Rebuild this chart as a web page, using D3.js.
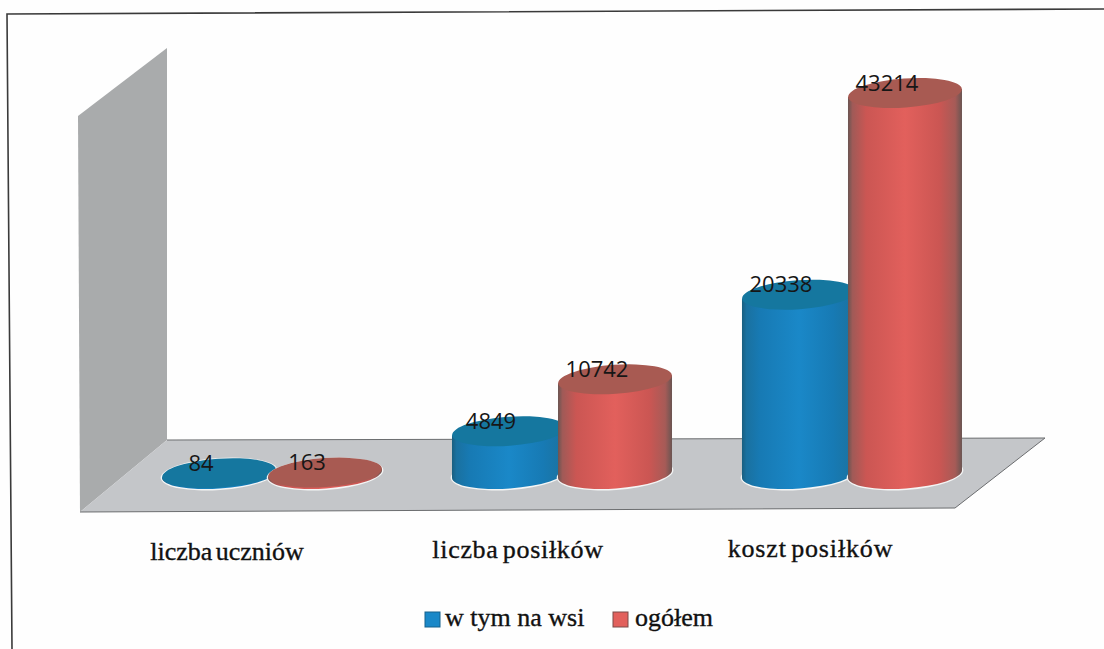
<!DOCTYPE html>
<html><head><meta charset="utf-8">
<script src="https://cdn.jsdelivr.net/npm/d3@7"></script>
<style>html,body{margin:0;background:#fff}svg{display:block}</style>
</head><body><svg id="c" width="1104" height="649"></svg>
<script>
const categories = ["liczba uczniów", "liczba posiłków", "koszt posiłków"];
const seriesNames = ["w tym na wsi", "ogółem"];
const wsi = [84, 4849, 20338];
const ogolem = [163, 10742, 43214];
const seriesColors = ["#1a88c8", "#e2605c"];

const svg = d3.select("#c");
const defs = svg.append("defs");
const W = 1104, H = 649;
svg.append("rect").attr("width", W).attr("height", H).attr("fill", "#fefefe");

// frame
svg.append("path").attr("d", d3.line()([[1104,9],[7,14],[12,649]]))
  .attr("fill", "none").attr("stroke", "#3a3a3a").attr("stroke-width", 1.6);

// wall and floor
svg.append("path").attr("d", d3.line()([[78,116],[167,48],[167,440],[80,512]]) + "Z").attr("fill", "#a9abac");
svg.append("path").attr("d", d3.line()([[167,440],[1045,438],[955,508],[80,512]]) + "Z").attr("fill", "#c4c6c9");
svg.append("path").attr("d", d3.line()([[167,440],[1045,438],[955,508],[80,512]]))
  .attr("fill", "none").attr("stroke", "#6b6d6f").attr("stroke-width", 1);

// scales
const x0 = d3.scaleBand().domain(categories).range([163, 959]).paddingInner(0.255).paddingOuter(0);
const x1 = d3.scaleBand().domain(seriesNames).range([0, x0.bandwidth()]).padding(0);
const y = d3.scaleLinear().domain([0, 43214]).range([474, 93]);

function shade(id, c, edge) {
  const col = d3.color(c);
  const g = defs.append("linearGradient").attr("id", id);
  [[0, edge], [0.04, d3.interpolateRgb(edge, c)(0.45)], [0.16, col.darker(0.3)], [0.5, col], [0.8, col.darker(0.3)], [0.94, d3.interpolateRgb(edge, c)(0.5)], [1, edge]]
    .forEach(([o, k]) => g.append("stop").attr("offset", o).attr("stop-color", k));
}
shade("grad0", seriesColors[0], "#1a5f80");
shade("grad1", seriesColors[1], "#6a5552");

const TILT = -4, RY = 14.5;
const tops = ["#15779f", "#a85a52"];
const rows = [];
categories.forEach((cat, ci) => seriesNames.forEach((s, si) => {
  rows.push({cat, s, si, v: (si === 0 ? wsi : ogolem)[ci]});
}));
const centre = d => x0(d.cat) + x1(d.s) + x1.bandwidth() / 2 + (d.si === 0 ? 2 : 0);

const g = svg.selectAll("g.cyl").data(rows).join("g").attr("class", "cyl");
g.each(function(d) {
  const sel = d3.select(this);
  const rx = 57;
  const cx = centre(d);
  const yb = y(0), yt = y(d.v);
  sel.append("ellipse").attr("cx", cx).attr("cy", yb).attr("rx", rx + 1.5).attr("ry", RY + 1.5)
    .attr("transform", `rotate(${TILT} ${cx} ${yb})`).attr("fill", "#f4f5f5");
  const rad = TILT * Math.PI / 180;
  const dy = rx * Math.sin(rad);
  sel.append("path")
    .attr("d", `M${cx - rx},${yt - dy} L${cx - rx},${yb - dy} A${rx},${RY} ${TILT} 0 0 ${cx + rx},${yb + dy} L${cx + rx},${yt + dy} Z`)
    .attr("fill", `url(#grad${d.si})`);
  sel.append("ellipse").attr("cx", cx).attr("cy", yt).attr("rx", rx).attr("ry", RY)
    .attr("transform", `rotate(${TILT} ${cx} ${yt})`).attr("fill", tops[d.si]);
});

// value labels
svg.selectAll("text.val").data(rows).join("text").attr("class", "val")
  .attr("x", d => centre(d) - 18)
  .attr("y", d => y(d.v) - 2.5)
  .attr("text-anchor", "middle").attr("font-family", "'Open Sans', sans-serif").attr("font-size", 22)
  .attr("fill", "#161616").text(d => d.v);

// category axis
const axis = d3.axisBottom(x0).tickSize(0).tickPadding(0);
const ax = svg.append("g").attr("transform", "translate(0,560)").call(axis);
ax.select(".domain").remove();
ax.selectAll("text").attr("font-family", "'Liberation Serif', serif").attr("font-size", 26)
  .attr("fill", "#111").attr("y", 0).attr("dy", 0).attr("word-spacing", -3)
  .attr("letter-spacing", (d, i) => [0, 0.7, 0.85][i])
  .attr("stroke", "#111").attr("stroke-width", 0.35)
  .attr("transform", (d, i) => `translate(${[-44, -43, -40.5][i]},${[0, -2, -3][i]})`);

// legend
const lx = [425, 613], tx = [445, 635];
seriesNames.forEach((s, i) => {
  svg.append("rect").attr("x", lx[i]).attr("y", 612).attr("width", 15).attr("height", 15)
    .attr("fill", seriesColors[i]).attr("stroke", i ? "#7a4a48" : "#14608c").attr("stroke-width", 1);
  svg.append("text").attr("x", tx[i]).attr("y", 626).text(s)
    .attr("font-family", "'Liberation Serif', serif").attr("font-size", 26).attr("fill", "#111")
    .attr("stroke", "#111").attr("stroke-width", 0.35);
});
</script></body></html>
